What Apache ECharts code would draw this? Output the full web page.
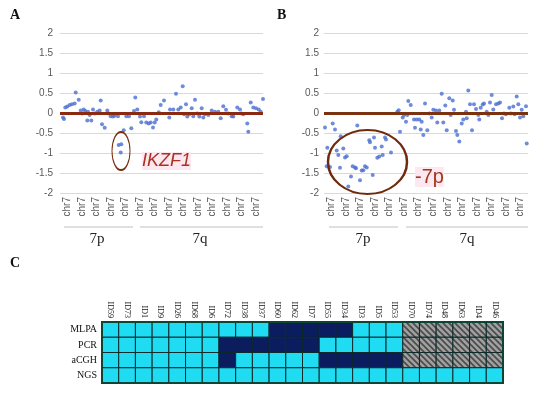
<!DOCTYPE html>
<html><head><meta charset="utf-8">
<script src="https://cdn.jsdelivr.net/npm/echarts@6/dist/echarts.min.js"></script>
<style>html,body{margin:0;padding:0;background:#fff}#c{width:550px;height:393px}</style>
</head><body><div id="c"></div>
<script>
// ---------- DATA ----------
const chrLabels = ['chr7','chr7','chr7','chr7','chr7','chr7','chr7','chr7','chr7','chr7','chr7','chr7','chr7','chr7'];
const yTicks = [-2,-1.5,-1,-0.5,0,0.5,1,1.5,2];
// Panel A: probe position (arbitrary units along chr7) and log ratio
const posA = [3.0,4.0,5.3,7.3,9.7,12.0,14.7,15.7,18.7,20.7,22.3,23.7,25.3,27.3,28.0,29.7,31.3,33.0,34.7,37.3,39.7,40.7,42.0,44.7,47.3,48.7,50.7,53.0,54.7,58.0,58.7,61.3,60.7,63.7,66.3,69.0,71.3,74.0,75.3,77.3,80.0,81.3,84.0,86.3,88.7,90.7,93.0,94.7,96.3,98.7,100.7,104.0,109.3,110.0,113.3,116.0,118.3,120.7,122.7,124.0,126.0,127.3,129.3,131.7,133.3,135.0,137.3,139.3,141.7,143.3,145.0,148.3,151.7,155.0,158.3,160.7,163.3,166.0,168.3,171.7,173.3,177.3,180.0,181.7,183.3,187.3,188.3,190.7,193.3,196.0,198.7,200.7,203.0];
const valA = [-0.11,-0.15,0.14,0.16,0.20,0.22,0.24,0.51,0.33,0.06,-0.01,0.09,0.05,-0.19,0.03,-0.05,-0.19,0.09,-0.01,0.03,0.06,0.31,-0.28,-0.37,0.06,-0.01,-0.08,-0.09,-0.07,-0.08,-0.80,-0.78,-0.99,-0.43,-0.08,-0.08,-0.38,0.05,0.39,0.09,-0.09,-0.23,-0.08,-0.24,-0.26,-0.24,-0.36,-0.24,-0.16,0.02,0.20,0.31,-0.11,0.09,0.09,0.48,0.09,0.14,0.67,-0.03,0.22,-0.09,-0.03,0.12,-0.08,0.33,-0.01,-0.09,0.12,-0.11,-0.03,-0.05,0.06,0.03,0.03,-0.13,0.17,0.08,-0.01,-0.08,-0.09,0.14,0.09,-0.01,-0.03,-0.26,-0.47,0.26,0.14,0.12,0.09,0.03,0.35];
// Panel B
const posB = [1.0,3.3,2.7,6.0,8.7,11.0,12.7,14.3,16.7,16.0,19.3,21.0,22.7,24.3,27.0,28.7,31.0,32.0,33.3,36.0,37.7,39.3,41.0,42.7,45.3,46.0,48.7,50.0,51.0,53.3,55.3,57.7,58.7,61.0,62.0,67.0,73.3,74.7,76.0,78.7,80.0,82.0,83.3,84.3,86.7,90.0,92.7,91.0,95.3,96.7,97.7,99.3,101.0,103.3,105.3,107.7,109.3,112.0,113.3,115.3,117.7,119.3,121.3,122.7,125.3,126.7,128.7,130.0,132.0,133.3,135.3,137.7,139.3,142.0,142.7,144.3,146.0,148.0,150.0,152.0,154.3,155.3,156.7,158.7,160.0,162.7,164.3,166.0,167.7,169.3,172.0,174.3,176.0,178.0,180.0,182.0,185.3,186.7,189.3,190.7,192.7,194.3,196.0,197.7,199.3,202.0,202.7];
const valB = [-0.36,-0.87,-1.33,-1.35,-0.26,-0.41,-0.94,-1.05,-0.58,-1.37,-0.89,-1.11,-1.08,-1.84,-1.59,-1.33,-1.36,-1.38,-0.31,-1.68,-1.44,-1.43,-1.33,-1.36,-0.68,-0.73,-1.55,-0.61,-0.87,-1.12,-1.09,-0.84,-1.05,-0.61,-0.66,-0.99,0.03,0.07,-0.47,-0.11,-0.05,-0.22,-0.05,0.30,0.20,-0.16,-0.16,-0.37,-0.16,-0.41,-0.22,-0.55,0.24,-0.43,-0.01,-0.11,0.08,0.06,-0.24,0.06,0.48,-0.24,0.19,-0.43,0.37,-0.05,0.31,0.08,-0.45,-0.55,-0.71,-0.26,-0.16,0.03,-0.13,0.56,0.22,-0.43,0.22,0.10,-0.05,-0.16,0.13,0.21,0.24,0.03,-0.05,0.26,0.45,0.09,0.22,0.24,0.26,-0.13,-0.01,-0.03,0.13,-0.01,0.16,-0.03,0.41,0.22,-0.11,0.08,-0.08,0.17,-0.76];
// Panel C: 0 = not deleted (cyan), 1 = IKZF1 deletion (navy), 2 = not performed (hatched)
const sampleIds = ['ID59','ID73','ID1','ID9','ID26','ID68','ID6','ID72','ID38','ID37','ID60','ID62','ID7','ID55','ID34','ID3','ID5','ID53','ID70','ID74','ID48','ID63','ID4','ID46'];
const methods = ['MLPA','PCR','aCGH','NGS'];
const mlpa = [0,0,0,0,0,0,0,0,0,0,1,1,1,1,1,0,0,0,2,2,2,2,2,2];
const pcr  = [0,0,0,0,0,0,0,1,1,1,1,1,1,0,0,0,0,0,2,2,2,2,2,2];
const acgh = [0,0,0,0,0,0,0,1,0,0,0,0,0,1,1,1,1,1,2,2,2,2,2,2];
const ngs  = [0,0,0,0,0,0,0,0,0,0,0,0,0,0,0,0,0,0,0,0,0,0,0,0];

// ---------- BUILD ----------
const ptsA = posA.map((p,i)=>[p,valA[i]]);
const ptsB = posB.map((p,i)=>[p,valB[i]]);
const matrix = [mlpa,pcr,acgh,ngs];
const cells = [];
matrix.forEach((row,r)=>row.forEach((v,c)=>cells.push([c,r,v])));

const hatch = document.createElement('canvas');
hatch.width = 6; hatch.height = 6;
(function(){const g=hatch.getContext('2d');g.fillStyle='#a0a0a0';g.fillRect(0,0,6,6);
 g.strokeStyle='#4a4a4a';g.lineWidth=1.6;g.beginPath();
 g.moveTo(-1,-1);g.lineTo(7,7);g.moveTo(-4,2);g.lineTo(4,10);g.moveTo(2,-4);g.lineTo(10,4);g.stroke();})();
const cellColors = ['#1fdcf2','#0b1d5e',{image:hatch,repeat:'repeat'}];

const axisFont = 'Liberation Sans';
function valueY(gi){return {type:'value',gridIndex:gi,min:-2,max:2,interval:0.5,
  axisLine:{show:false},axisTick:{show:false},
  splitLine:{lineStyle:{color:'#d9d9d9',width:1}},
  axisLabel:{color:'#595959',fontSize:10,fontFamily:axisFont,margin:gi===0?7:5}};}
function chrX(gi){return {type:'category',gridIndex:gi,data:chrLabels,boundaryGap:true,
  axisLine:{show:false},axisTick:{show:false},
  axisLabel:{rotate:90,interval:0,color:'#595959',fontSize:10,fontFamily:axisFont,margin:4}};}
function posX(gi,max){return {type:'value',gridIndex:gi,min:0,max:max,show:false,splitLine:{show:false}};}
const zeroLine = {silent:true,symbol:'none',label:{show:false},lineStyle:{color:'#8a2a10',width:3,type:'solid'},data:[{yAxis:0}]};

const chart = echarts.init(document.getElementById('c'),null,{renderer:'canvas'});
chart.setOption({
  animation:false,
  backgroundColor:'#fff',
  grid:[
    {left:60,top:33,width:203,height:160},
    {left:324,top:33,width:204,height:160},
    {left:102,top:322,width:401,height:61,show:true,borderColor:'#0c4436',borderWidth:2,backgroundColor:'transparent',z:3}
  ],
  xAxis:[chrX(0),posX(0,203),chrX(1),posX(1,204),
    {type:'category',gridIndex:2,position:'top',data:sampleIds,axisLine:{show:false},axisTick:{show:false},
     axisLabel:{rotate:90,interval:0,fontSize:8,color:'#111',fontFamily:'Liberation Serif',margin:4}}],
  yAxis:[valueY(0),valueY(1),
    {type:'category',gridIndex:2,data:methods,inverse:true,axisLine:{show:false},axisTick:{show:false},splitLine:{show:false},
     axisLabel:{fontSize:10,color:'#111',fontFamily:'Liberation Serif',margin:5}}],
  series:[
    {type:'scatter',xAxisIndex:1,yAxisIndex:0,data:ptsA,symbolSize:4,itemStyle:{color:'#4a6fd0'},z:3,
     markLine:zeroLine},
    {type:'scatter',xAxisIndex:3,yAxisIndex:1,data:ptsB,symbolSize:4,itemStyle:{color:'#4a6fd0'},z:3,
     markLine:Object.assign({},zeroLine,{lineStyle:{color:'#7a3210',width:3,type:'solid'}})},
    {type:'custom',xAxisIndex:4,yAxisIndex:2,data:cells,z:2,
     renderItem:function(params,api){
       const p=api.coord([api.value(0),api.value(1)]);const s=api.size([1,1]);
       return {type:'rect',shape:{x:p[0]-s[0]/2,y:p[1]-s[1]/2,width:s[0],height:s[1]},
         style:{fill:cellColors[api.value(2)],stroke:'#0a2a2a',lineWidth:1}};
     }}
  ],
  graphic:[
    {type:'text',left:10,top:8,style:{text:'A',font:'bold 14px "Liberation Serif"',fill:'#111'}},
    {type:'text',left:277,top:8,style:{text:'B',font:'bold 14px "Liberation Serif"',fill:'#111'}},
    {type:'text',left:10,top:256,style:{text:'C',font:'bold 14px "Liberation Serif"',fill:'#111'}},
    // IKZF1 annotation
    {type:'circle',shape:{cx:0,cy:0,r:19},x:121,y:151,scaleX:9/19,scaleY:1,z:10,
      style:{fill:'none',stroke:'#7a2e0e',lineWidth:2,strokeNoScale:true}},
    {type:'text',x:142,y:161,z:10,style:{text:'IKZF1',font:'italic 18px "Liberation Sans"',fill:'#a8321e',verticalAlign:'middle',backgroundColor:'#fde8f1'}},
    // -7p annotation
    {type:'circle',shape:{cx:0,cy:0,r:32},x:367.5,y:162,scaleX:39.5/32,scaleY:1,z:10,
      style:{fill:'none',stroke:'#6e2a0c',lineWidth:2,strokeNoScale:true}},
    {type:'text',x:415,y:177,z:10,style:{text:'-7p',font:'20px "Liberation Sans"',fill:'#a0381e',verticalAlign:'middle',backgroundColor:'#fde8f1'}},
    // arm brackets
    {type:'line',shape:{x1:64,y1:227,x2:133,y2:227},style:{stroke:'#c0c0c0',lineWidth:1}},
    {type:'line',shape:{x1:140,y1:227,x2:263,y2:227},style:{stroke:'#c0c0c0',lineWidth:1}},
    {type:'line',shape:{x1:329,y1:227,x2:398,y2:227},style:{stroke:'#c0c0c0',lineWidth:1}},
    {type:'line',shape:{x1:406,y1:227,x2:528,y2:227},style:{stroke:'#c0c0c0',lineWidth:1}},
    {type:'text',x:97,y:239,style:{text:'7p',font:'15px "Liberation Serif"',fill:'#222',align:'center',verticalAlign:'middle'}},
    {type:'text',x:200,y:239,style:{text:'7q',font:'15px "Liberation Serif"',fill:'#222',align:'center',verticalAlign:'middle'}},
    {type:'text',x:363,y:239,style:{text:'7p',font:'15px "Liberation Serif"',fill:'#222',align:'center',verticalAlign:'middle'}},
    {type:'text',x:467,y:239,style:{text:'7q',font:'15px "Liberation Serif"',fill:'#222',align:'center',verticalAlign:'middle'}}
  ]
});
</script></body></html>
